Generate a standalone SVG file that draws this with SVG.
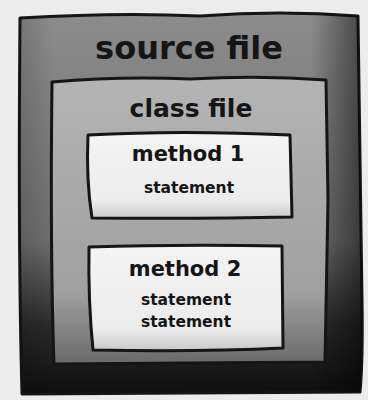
<svg xmlns="http://www.w3.org/2000/svg" width="368" height="400" viewBox="0 0 368 400">
  <defs>
    <linearGradient id="gOuter" x1="0" y1="0" x2="0" y2="1">
      <stop offset="0" stop-color="#8c8c8c"/>
      <stop offset="0.6" stop-color="#6e6e6e"/>
      <stop offset="0.82" stop-color="#2a2a2a"/>
      <stop offset="1" stop-color="#0e0e0e"/>
    </linearGradient>
    <linearGradient id="gOuterSide" x1="0" y1="0" x2="1" y2="0">
      <stop offset="0" stop-color="#000" stop-opacity="0.15"/>
      <stop offset="0.1" stop-color="#000" stop-opacity="0"/>
      <stop offset="0.85" stop-color="#000" stop-opacity="0"/>
      <stop offset="1" stop-color="#000" stop-opacity="0.5"/>
    </linearGradient>
    <linearGradient id="gClass" x1="0" y1="0" x2="0" y2="1">
      <stop offset="0" stop-color="#b4b4b4"/>
      <stop offset="0.75" stop-color="#a0a0a0"/>
      <stop offset="1" stop-color="#6a6a6a"/>
    </linearGradient>
    <linearGradient id="gMethod" x1="0" y1="0" x2="0" y2="1">
      <stop offset="0" stop-color="#f4f4f4"/>
      <stop offset="0.8" stop-color="#ececec"/>
      <stop offset="1" stop-color="#c8c8c8"/>
    </linearGradient>
    <style>
      .box { stroke: #151515; stroke-width: 3; stroke-linejoin: round; }
      .lbl { font-family: "DejaVu Sans", "Liberation Sans", sans-serif; font-weight: bold; fill: #151515; text-anchor: middle; }
    </style>
  </defs>
  <rect width="368" height="400" fill="#ececec"/>
  <g id="source-file">
    <path class="box" d="M20 18 Q120 12 200 16 Q280 10 358 16 L362 300 Q363 360 360 392 L22 394 Q18 250 20 18 Z" fill="url(#gOuter)"/>
    <path d="M20 18 Q120 12 200 16 Q280 10 358 16 L362 300 Q363 360 360 392 L22 394 Q18 250 20 18 Z" fill="url(#gOuterSide)"/>
    <text class="lbl" x="189" y="59" font-size="32">source file</text>
  </g>
  <g id="class-file">
    <path class="box" d="M52 82 Q120 76 190 79 Q260 75 326 80 L328 200 L325 362 L54 364 Q50 250 52 82 Z" fill="url(#gClass)"/>
    <text class="lbl" x="191" y="117" font-size="25">class file</text>
  </g>
  <g id="method-1">
    <path class="box" d="M88 135 Q180 130 290 135 L292 217 Q200 219 92 218 Q86 180 88 135 Z" fill="url(#gMethod)"/>
    <text class="lbl" x="188" y="161" font-size="21">method 1</text>
    <text class="lbl" x="189" y="193" font-size="15.5">statement</text>
  </g>
  <g id="method-2">
    <path class="box" d="M89 247 Q180 244 282 246 L283 348 Q200 352 93 350 Q88 300 89 247 Z" fill="url(#gMethod)"/>
    <text class="lbl" x="185" y="276" font-size="21">method 2</text>
    <text class="lbl" x="186" y="305" font-size="15.5">statement</text>
    <text class="lbl" x="186" y="327" font-size="15.5">statement</text>
  </g>
</svg>
